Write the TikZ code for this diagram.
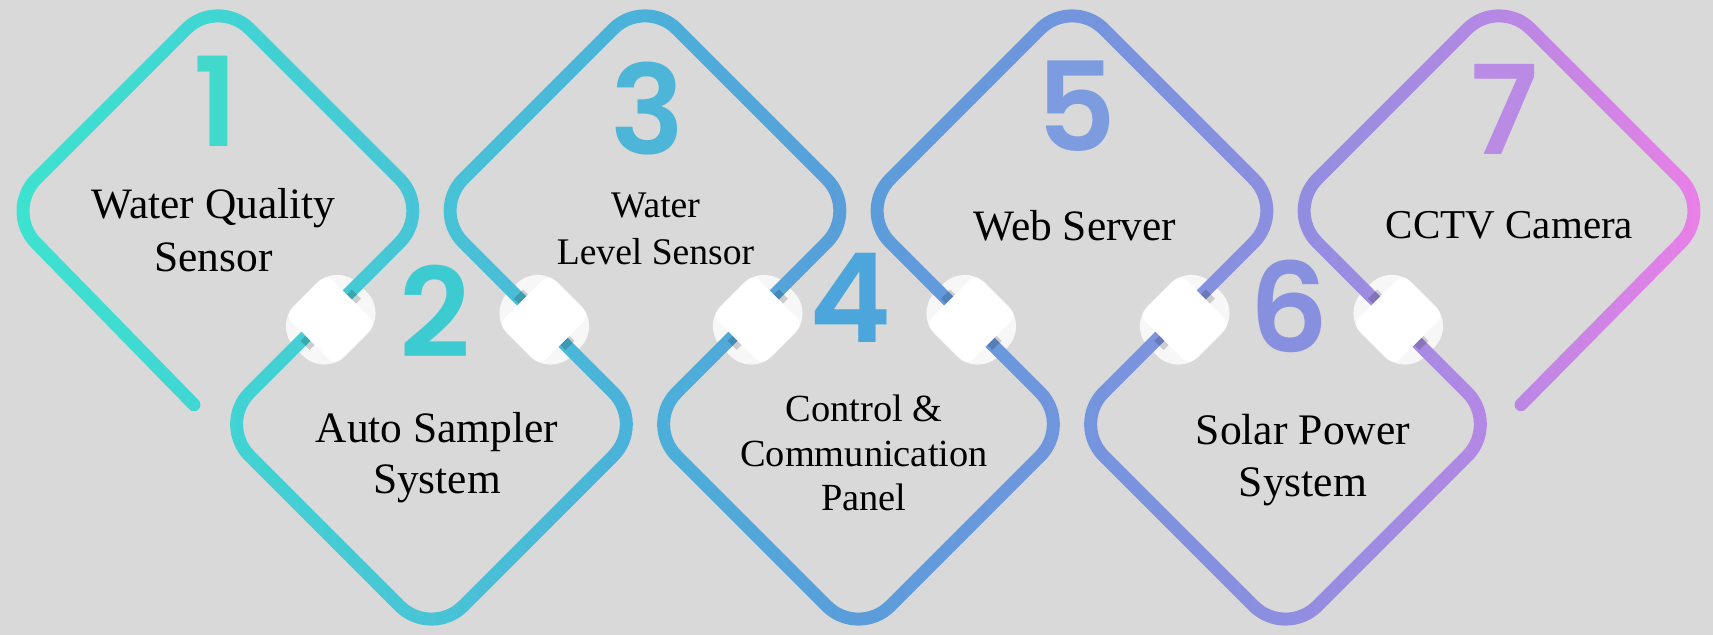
\documentclass[tikz,border=0pt]{standalone}
\usepackage{fontspec}
\setmainfont{Liberation Serif}
\newfontfamily\digitfont{Poppins SemiBold}
\usetikzlibrary{fadings,calc}

\definecolor{bg}{HTML}{D9D9D9}
\definecolor{g0}{HTML}{3DE3D0}
\definecolor{g1}{HTML}{40D6D2}
\definecolor{g2}{HTML}{48C4D6}
\definecolor{g3}{HTML}{4BB0D9}
\definecolor{g4}{HTML}{5A9DDA}
\definecolor{g5}{HTML}{7395DD}
\definecolor{g6}{HTML}{8E8EE0}
\definecolor{g7}{HTML}{B488E4}
\definecolor{g8}{HTML}{EC7FE7}
\definecolor{d1}{HTML}{40D9CC}
\definecolor{d2}{HTML}{3DCBD2}
\definecolor{d3}{HTML}{4DB6D8}
\definecolor{d4}{HTML}{4CA6DB}
\definecolor{d5}{HTML}{7D9CE0}
\definecolor{d6}{HTML}{8690DE}
\definecolor{d7}{HTML}{B98BE5}

\pgfdeclarehorizontalshading{chainshade}{100bp}{color(0bp)=(g0); color(25bp)=(g0); color(31bp)=(g1); color(37.5bp)=(g2); color(44bp)=(g3); color(50bp)=(g4); color(56.5bp)=(g5); color(62.5bp)=(g6); color(68.5bp)=(g7); color(75bp)=(g8); color(100bp)=(g8)}

\newcommand{\chainpath}{(200,407) -- (10.5,213) -- (224,-0.5) -- (437.5,213) -- (224,426.5) -- (437.5,640) -- (651,426.5) -- (437.5,213) -- (651,-0.5) -- (864.5,213) -- (651,426.5) -- (864.5,640) -- (1078,426.5) -- (864.5,213) -- (1078,-0.5) -- (1291.5,213) -- (1078,426.5) -- (1291.5,640) -- (1505,426.5) -- (1291.5,213) -- (1505,-0.5) -- (1718.5,213) -- (1527,407)}

\newcommand{\mlines}[3]{\fontsize{#1}{#2}\selectfont\begin{tabular}[t]{@{}c@{}}#3\end{tabular}}

\begin{tikzfadingfrompicture}[name=chainfade, x=0.5pt, y=-0.5pt]
  \path (-856.5,-317.5) rectangle (856.5,317.5);
  \draw[transparent!0, line width=6.5pt, line cap=round, rounded corners=22.5pt, shift={(-856.5,-317.5)}] \chainpath;
\end{tikzfadingfrompicture}

\tikzset{
  halo/.style={rectangle, rounded corners=15pt, minimum width=45pt, minimum height=36pt, inner sep=0pt, fill=white, fill opacity=0.8, draw=none},
  core/.style={rectangle, rounded corners=4pt, minimum width=29pt, minimum height=35pt, inner sep=0pt, fill=white, draw=none},
  lineshadow/.style={line width=6.5pt, draw=black, draw opacity=0.17},
  lbl/.style={anchor=base, inner sep=0pt, text=black},
  digit/.style={anchor=base, inner sep=0pt, text height=47pt, text depth=0pt, font=\digitfont\fontsize{62}{62}\selectfont}
}

\begin{document}
\begin{tikzpicture}[x=0.5pt, y=-0.5pt]
  \useasboundingbox (-856.5,-317.5) rectangle (856.5,317.5);
  \fill[bg] (-856.5,-317.5) rectangle (856.5,317.5);
  \begin{scope}[shift={(-856.5,-317.5)}]
    \foreach \i/\x/\a in {12/330.75/45, 23/544.25/-45, 34/757.75/45, 45/971.25/-45, 56/1184.75/45, 67/1398.25/-45}
      {\node[halo, rotate=\a] (h\i) at (\x,319.75) {};}
  \end{scope}
  \shade[shading=chainshade, path fading=chainfade, fit fading=false] (-856.5,-317.5) rectangle (856.5,317.5);
  \begin{scope}[shift={(-856.5,-317.5)}]
    \foreach \i in {12,23,34,45,56,67}{
      \draw[lineshadow] ($(h\i.center)!0.64!(h\i.east)$) -- ($(h\i.center)!0.8!(h\i.east)$);
      \draw[lineshadow] ($(h\i.center)!0.64!(h\i.west)$) -- ($(h\i.center)!0.8!(h\i.west)$);
    }
    \foreach \i/\x/\a in {12/330.75/45, 23/544.25/-45, 34/757.75/45, 45/971.25/-45, 56/1184.75/45, 67/1398.25/-45}
      {\node[core, rotate=\a] (k\i) at (\x,319.75) {};}

    \node[digit, text=d1] (n1) at (216,147) {1};
    \node[digit, text=d2] (n2) at (435,358) {2};
    \node[digit, text=d3] (n3) at (648,155) {3};
    \node[digit, text=d4] (n4) at (850,343) {4};
    \node[digit, text=d5] (n5) at (1076,152) {5};
    \node[digit, text=d6] (n6) at (1289,353) {6};
    \node[digit, text=d7] (n7) at (1504,155) {7};

    \node[lbl] (t1) at (213.5,219) {\mlines{21.7}{26.5}{Water Quality\\Sensor}};
    \node[lbl] (t2) at (437,443) {\mlines{21.7}{25.5}{Auto Sampler\\System}};
    \node[lbl] (t3) at (655.5,218) {\mlines{18.8}{23.5}{Water\\Level Sensor}};
    \node[lbl] (t4) at (864,422) {\mlines{19.2}{22.25}{Control \&\\Communication\\Panel}};
    \node[lbl] (t5) at (1075,241) {\mlines{21.7}{25}{Web Server}};
    \node[lbl] (t6) at (1303,445) {\mlines{21.8}{26}{Solar Power\\System}};
    \node[lbl] (t7) at (1509.5,239) {\mlines{20.5}{25}{CCTV Camera}};
  \end{scope}
\end{tikzpicture}
\end{document}
